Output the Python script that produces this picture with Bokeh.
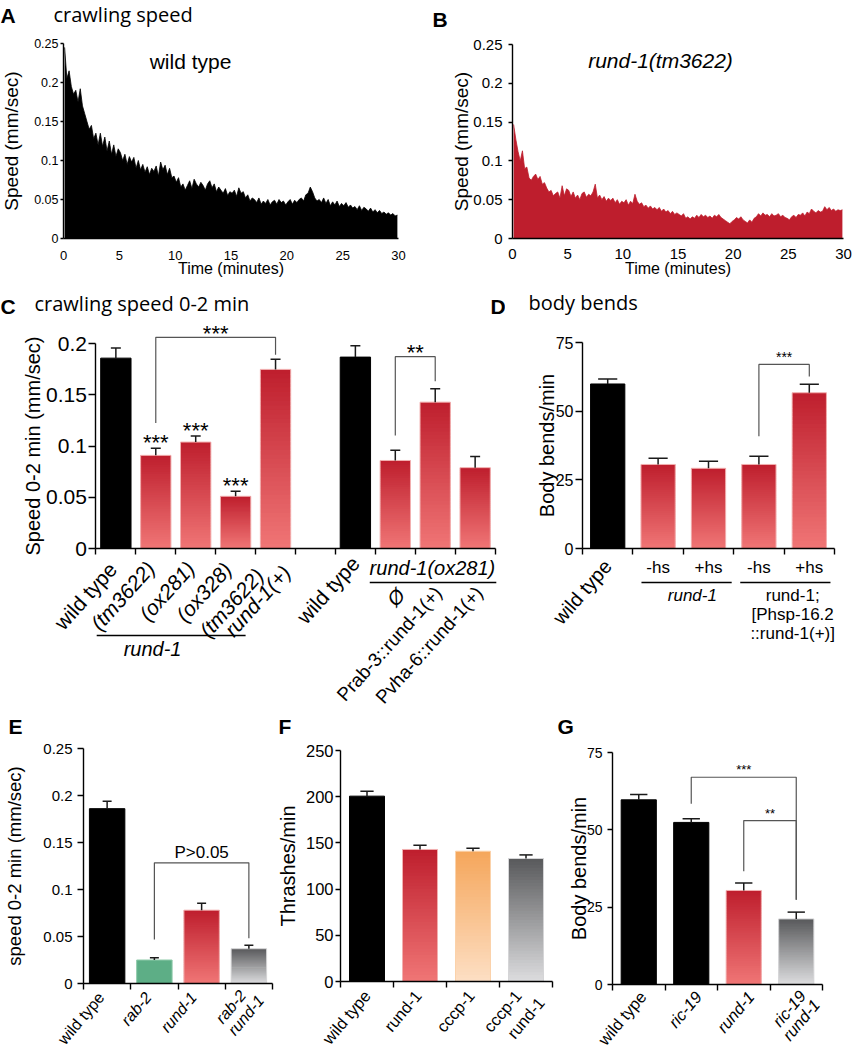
import numpy as np
from bokeh.plotting import figure
from bokeh.models import Label, Range1d, FixedTicker
from bokeh.layouts import column, row
from bokeh.embed import file_html
from bokeh.resources import INLINE

SANS = "Liberation Sans"
HEAD = "Open Sans"

# ------------------------------------------------------------------ data
A_bin_min = 0.2  # minutes per bin (panels A and B)
A_wild_type = [
    0.245, 0.205, 0.215, 0.195, 0.185,
    0.19, 0.175, 0.192, 0.17, 0.16,
    0.15, 0.14, 0.145, 0.128, 0.135,
    0.12, 0.135, 0.118, 0.13, 0.112,
    0.125, 0.108, 0.12, 0.105, 0.115,
    0.11, 0.1, 0.108, 0.095, 0.105,
    0.098, 0.104, 0.09, 0.1, 0.088,
    0.095, 0.085, 0.092, 0.082, 0.09,
    0.086, 0.093, 0.08, 0.098, 0.088,
    0.094, 0.082, 0.09, 0.078, 0.08,
    0.072, 0.078, 0.066, 0.07, 0.062,
    0.068, 0.074, 0.064, 0.076, 0.07,
    0.066, 0.072, 0.068, 0.062, 0.07,
    0.074, 0.065, 0.07, 0.06, 0.066,
    0.062, 0.058, 0.064, 0.055, 0.06,
    0.058, 0.062, 0.054, 0.065, 0.058,
    0.06, 0.052, 0.056, 0.048, 0.052,
    0.05, 0.046, 0.052, 0.044, 0.048,
    0.045, 0.05, 0.043, 0.047, 0.049,
    0.044, 0.05, 0.046, 0.048, 0.043,
    0.047, 0.05, 0.044, 0.049, 0.046,
    0.05, 0.052, 0.048, 0.056, 0.058,
    0.066, 0.06, 0.052, 0.048, 0.05,
    0.046, 0.052, 0.045, 0.05, 0.042,
    0.047, 0.043, 0.048, 0.041, 0.045,
    0.042, 0.046, 0.04, 0.043, 0.039,
    0.041, 0.037, 0.042, 0.036, 0.04,
    0.038, 0.035, 0.039, 0.034, 0.037,
    0.033, 0.036, 0.032, 0.034, 0.031,
    0.033, 0.03, 0.032, 0.029, 0.03,
]
B_rund1_tm3622 = [
    0.147, 0.128, 0.112, 0.1, 0.113,
    0.09, 0.092, 0.078, 0.075, 0.08,
    0.083, 0.076, 0.08, 0.07, 0.072,
    0.065, 0.06, 0.062, 0.055, 0.058,
    0.06, 0.052, 0.068, 0.055, 0.064,
    0.062, 0.054, 0.06, 0.052, 0.056,
    0.05, 0.058, 0.06, 0.053, 0.057,
    0.055, 0.06, 0.07, 0.052, 0.056,
    0.05, 0.054, 0.048, 0.052, 0.049,
    0.052, 0.046, 0.05, 0.044, 0.048,
    0.046, 0.05, 0.043, 0.048, 0.045,
    0.057, 0.048, 0.044, 0.046, 0.041,
    0.043, 0.039, 0.042, 0.038, 0.04,
    0.037, 0.04, 0.035, 0.038, 0.034,
    0.036, 0.032, 0.035, 0.031, 0.033,
    0.031, 0.029, 0.032, 0.026, 0.028,
    0.025, 0.028, 0.026, 0.03, 0.027,
    0.031, 0.028, 0.03, 0.027, 0.029,
    0.026, 0.03, 0.028, 0.031, 0.027,
    0.025, 0.023, 0.021, 0.019, 0.022,
    0.024, 0.027, 0.025, 0.028, 0.024,
    0.022, 0.02, 0.024, 0.021, 0.026,
    0.028, 0.032, 0.029, 0.033, 0.03,
    0.031, 0.028, 0.032, 0.029, 0.03,
    0.032, 0.028, 0.03, 0.027, 0.026,
    0.024, 0.028, 0.03, 0.027, 0.031,
    0.03, 0.033, 0.029, 0.034, 0.032,
    0.038, 0.035, 0.033, 0.036, 0.034,
    0.035, 0.041, 0.037, 0.04, 0.036,
    0.038, 0.035, 0.037, 0.036, 0.037,
]
AB_yticks = [0, 0.05, 0.1, 0.15, 0.2, 0.25]
AB_ytick_labels = ["0", "0.05", "0.1", "0.15", "0.2", "0.25"]
AB_xticks = [0, 5, 10, 15, 20, 25, 30]

C_labels = ["wild type", "(tm3622)", "(ox281)", "(ox328)", "(tm3622)\nrund-1(+)", "",
            "wild type", "Ø", "Prab-3::rund-1(+)", "Pvha-6::rund-1(+)"]
C_italic = [False, True, True, True, True, False, False, True, False, False]
C_speed = [0.186, 0.091, 0.104, 0.051, 0.175, None, 0.187, 0.086, 0.143, 0.079]
C_sem = [0.010, 0.007, 0.006, 0.005, 0.010, None, 0.011, 0.010, 0.013, 0.011]
C_kind = ["black", "red", "red", "red", "red", None, "black", "red", "red", "red"]
C_bar_stars = {1: "***", 2: "***", 3: "***"}
C_brackets = [(1, 4, 0.1225, 0.2063, 0.1893, "***"), (7, 8, 0.1105, 0.1874, 0.1635, "**")]
C_groups = [("rund-1", 0.02, 3.75, 87, 1.42, 100), ("rund-1(ox281)", 6.86, 10.03, 34, 8.43, 19)]
C_yticks = [0, 0.05, 0.1, 0.15, 0.2]
C_ytick_labels = ["0", "0.05", "0.1", "0.15", "0.2"]

D_labels = ["wild type", "-hs", "+hs", "-hs", "+hs"]
D_bends = [59.9, 30.6, 29.2, 30.6, 56.7]
D_sem = [1.8, 2.3, 2.6, 3.0, 3.1]
D_kind = ["black", "red", "red", "red", "red"]
D_brackets = [(3, 4, 40.9, 67.0, 62.6, "***")]
D_groups = [(["rund-1"], True, 1.17, 2.96, 2.18), (["rund-1;", "[Phsp-16.2", "::rund-1(+)]"], False, 3.13, 4.92, 4.17)]
BENDS_yticks = [0, 25, 50, 75]

E_labels = ["wild type", "rab-2", "rund-1", "rab-2\nrund-1"]
E_italic = [False, True, True, True]
E_speed = [0.186, 0.025, 0.078, 0.037]
E_sem = [0.008, 0.0025, 0.0075, 0.0036]
E_kind = ["black", "green", "red", "gray"]
E_brackets = [(1, 3, 0.0468, 0.1284, 0.0482, "P>0.05")]

F_labels = ["wild type", "rund-1", "cccp-1", "cccp-1\nrund-1"]
F_italic = [False, False, False, False]
F_thrashes = [200.6, 142.9, 141.0, 133.1]
F_sem = [5.4, 4.6, 3.3, 3.9]
F_kind = ["black", "red", "orange", "gray"]
F_yticks = [0, 50, 100, 150, 200, 250]

G_labels = ["wild type", "ric-19", "rund-1", "ric-19\nrund-1"]
G_italic = [False, True, True, True]
G_bends = [59.7, 52.4, 30.4, 21.2]
G_sem = [1.7, 1.2, 2.4, 2.2]
G_kind = ["black", "black", "red", "gray"]
G_brackets = [(1, 3, 58.4, 67.0, 27.4, "***"), (2, 3, 36.6, 53.0, 27.4, "**")]

# ------------------------------------------------------------------ styles
GRAD = {"red": ((190, 30, 45), (240, 118, 118), "#f2b0b0"),
        "orange": ((245, 166, 91), (253, 223, 196), "#fbd2aa"),
        "gray": ((88, 89, 91), (221, 221, 223), "#d5d5d7")}
SOLID = {"black": ("#000000", "#000000"), "green": ("#5dae86", "#8fcaa9")}
ALPHA_FIX = 0.27  # em; alphabetic-baseline labels render this much lower than asked


class Panel:
    """Figure whose canvas covers page pixels [ox, ox+w] x [oy, oy+h]; data x0..x1 maps
    to pixels fl..fr and data y0..y1 to pixels fb..ft. The frame fills the canvas and the
    axes are pinned at the data origin."""
    def __init__(s, ox, oy, w, h, fl, fr, ft, fb, xd, yd):
        s.fl, s.fb = fl, fb
        s.x0, s.x1 = xd
        s.y0, s.y1 = yd
        s.kx = (fr - fl) / (s.x1 - s.x0)
        s.ky = (fb - ft) / (s.y1 - s.y0)
        p = figure(width=w, height=h,
                   x_range=Range1d(s.rx(ox), s.rx(ox + w)),
                   y_range=Range1d(s.ry(oy + h), s.ry(oy)),
                   min_border_left=0, min_border_right=0, min_border_top=0, min_border_bottom=0,
                   output_backend="svg", toolbar_location=None)
        p.xgrid.grid_line_color = None
        p.ygrid.grid_line_color = None
        p.outline_line_color = None
        p.background_fill_color = "white"
        p.border_fill_color = "white"
        s.p = p

    def rx(s, x):
        return s.x0 + (x - s.fl) / s.kx

    def ry(s, y):
        return s.y0 + (s.fb - y) / s.ky


def label(P, x, y, text, size, style="normal", align="left", baseline="alphabetic",
          angle=0.0, font=SANS):
    if baseline == "alphabetic":
        y = y + ALPHA_FIX * size / P.ky
    P.p.add_layout(Label(x=x, y=y, text=text, text_font=font, text_font_size=f"{size}px",
                         text_font_style=style, text_align=align, text_baseline=baseline,
                         angle=angle, text_color="black"))


def style_axes(P, yticks, ylabels, ytick_size, ylab, ylab_size, ylab_standoff,
               ytick_out, ytick_standoff, xticks, xlabels, xtick_size, xtick_out,
               xtick_standoff=4, xlab=None, xlab_size=16, xlab_standoff=0):
    ya = P.p.yaxis[0]
    xa = P.p.xaxis[0]
    for ax in (xa, ya):
        ax.axis_line_color = "black"
        ax.axis_line_width = 1.4
        ax.major_tick_line_color = "black"
        ax.major_tick_line_width = 1.4
        ax.major_tick_in = 0
        ax.minor_tick_in = 0
        ax.minor_tick_out = 0
        ax.major_label_text_font = SANS
        ax.major_label_text_color = "black"
        ax.axis_label_text_font = SANS
        ax.axis_label_text_font_style = "normal"
        ax.axis_label_text_color = "black"
    ya.fixed_location = P.x0
    ya.bounds = (yticks[0], yticks[-1])
    ya.ticker = FixedTicker(ticks=yticks)
    ya.major_label_overrides = dict(zip(yticks, ylabels))
    ya.major_label_text_font_size = f"{ytick_size}px"
    ya.major_tick_out = ytick_out
    ya.major_label_standoff = ytick_standoff
    ya.axis_label = ylab
    ya.axis_label_text_font_size = f"{ylab_size}px"
    ya.axis_label_standoff = ylab_standoff
    xa.fixed_location = P.y0
    xa.bounds = (xticks[0], xticks[-1])
    xa.ticker = FixedTicker(ticks=xticks)
    xa.major_label_overrides = dict(zip(xticks, xlabels))
    xa.major_label_text_font_size = f"{xtick_size}px"
    xa.major_tick_out = xtick_out
    xa.major_label_standoff = xtick_standoff
    if xlab:
        xa.axis_label = xlab
        xa.axis_label_text_font_size = f"{xlab_size}px"
        xa.axis_label_standoff = xlab_standoff


def draw_trace(P, values, color):
    centers = [(k + 0.5) * A_bin_min for k in range(len(values))]
    P.p.varea(x=centers, y1=[0] * len(values), y2=values, fill_color=color)
    P.p.line(x=centers, y=values, line_color=color, line_width=0.8)


def draw_bars(P, vals, kinds, width, n=40):
    xs, bots, tops, cols = [], [], [], []
    ox, ot, oc = [], [], []
    for i, (v, k) in enumerate(zip(vals, kinds)):
        if v is None:
            continue
        x = i + 0.5
        if k in GRAD:
            top, bot, line = GRAD[k]
            for j in range(n):
                f = (j + 0.5) / n
                c = tuple(int(round(b + (t - b) * f)) for t, b in zip(top, bot))
                xs.append(x)
                bots.append(v * j / n)
                tops.append(min(v, v * (j + 1.8) / n))
                cols.append("#%02x%02x%02x" % c)
        else:
            fill, line = SOLID[k]
            xs.append(x); bots.append(0); tops.append(v); cols.append(fill)
        ox.append(x); ot.append(v); oc.append(line)
    P.p.vbar(x=xs, bottom=bots, top=tops, width=width, fill_color=cols, line_color=None)
    P.p.vbar(x=ox, bottom=0, top=ot, width=width, fill_color=None, line_color=oc, line_width=1)


def draw_err(P, vals, sems, cap):
    xs = [i + 0.5 for i, v in enumerate(vals) if v is not None]
    lo = [v for v in vals if v is not None]
    hi = [v + e for v, e in zip(vals, sems) if v is not None]
    P.p.segment(x0=xs, y0=lo, x1=xs, y1=hi, line_color="#1a1a1a", line_width=1.5)
    P.p.segment(x0=[x - cap / 2 for x in xs], y0=hi, x1=[x + cap / 2 for x in xs], y1=hi,
                line_color="#1a1a1a", line_width=1.5)


def draw_brackets(P, brs, size, gap_px, vis=0.55):
    for i, j, yl, yt, yr, txt in brs:
        xi, xj = i + 0.5, j + 0.5
        P.p.line([xi, xi, xj, xj], [yl, yt, yt, yr], line_color="#555555", line_width=1.2)
        center = yt + gap_px / P.ky
        label(P, (xi + xj) / 2, center - vis * size / P.ky, txt, size, align="center")


def cat_labels(P, labels, italics, size, off, off2=None, special=None, deg=47, sizes=None):
    """Rotated category labels, anchored (right, middle) at a pixel offset from the
    bar centre on the x axis; two-line labels use off2 = (line1, line2) offsets."""
    for i, lab in enumerate(labels):
        if not lab:
            continue
        lines = lab.split("\n")
        for k, s in enumerate(lines):
            if len(lines) > 1:
                dx, dy = off2[k]
            else:
                dx, dy = (special or {}).get(i, off)
            label(P, i + 0.5 + dx / P.kx, P.y0 - dy / P.ky, s, (sizes or {}).get(i, size),
                  style="italic" if italics[i] else "normal", align="right",
                  baseline="middle", angle=np.radians(deg))


def hline(P, x0, x1, dy):
    y = P.y0 - dy / P.ky
    P.p.line([x0, x1], [y, y], line_color="black", line_width=1.3)


# ------------------------------------------------------------------ A
PA = Panel(0, 0, 425, 285, 63, 398, 43, 238, (0, 30), (0, 0.25))
draw_trace(PA, A_wild_type, "black")
style_axes(PA, AB_yticks, AB_ytick_labels, 12.5, "Speed (mm/sec)", 19, 9, 3, 2,
           AB_xticks, [str(t) for t in AB_xticks], 13, 0, xtick_standoff=12,
           xlab="Time (minutes)", xlab_size=16, xlab_standoff=-3)
label(PA, PA.rx(0), PA.ry(21), "A", 21, style="bold")
label(PA, PA.rx(53), PA.ry(19), "crawling speed", 20, font=HEAD)
label(PA, PA.rx(190), PA.ry(67), "wild type", 21, align="center")

# ------------------------------------------------------------------ B
PB = Panel(425, 0, 430, 285, 512, 843, 44, 238, (0, 30), (0, 0.25))
draw_trace(PB, B_rund1_tm3622, "#be1e2d")
style_axes(PB, AB_yticks, AB_ytick_labels, 15, "Speed (mm/sec)", 19, -2, 4, 6,
           AB_xticks, [str(t) for t in AB_xticks], 15, 0, xtick_standoff=10,
           xlab="Time (minutes)", xlab_size=16, xlab_standoff=-2)
label(PB, PB.rx(432), PB.ry(25), "B", 21, style="bold")
label(PB, PB.rx(660), PB.ry(66), "rund-1(tm3622)", 21, style="italic", align="center")

# ------------------------------------------------------------------ C
PC = Panel(0, 285, 505, 429, 95.4, 494.6, 343.3, 548, (0, 10), (0, 0.2))
draw_bars(PC, C_speed, C_kind, 0.76)
draw_err(PC, C_speed, C_sem, 0.25)
style_axes(PC, C_yticks, C_ytick_labels, 21, "Speed 0-2 min (mm/sec)", 20, -1, 7, 2,
           list(range(11)), [""] * 11, 10, 6)
for i, s in C_bar_stars.items():
    yc = C_speed[i] + C_sem[i] + 11.5 / PC.ky
    label(PC, i + 0.5, yc - 0.55 * 22 / PC.ky, s, 22, align="center")
draw_brackets(PC, C_brackets, 22, 10.5)
cat_labels(PC, C_labels, C_italic, 21, (-5, 16), off2=[(-16, 23), (11, 20)],
           special={0: (-3, 17), 3: (-8, 17), 6: (0, 11), 7: (6, 43), 8: (3, 41), 9: (4, 41)},
           deg=48, sizes={7: 20, 8: 19, 9: 19})
for text, g0, g1, line_dy, tx, text_dy in C_groups:
    hline(PC, g0, g1, line_dy)
    label(PC, tx, PC.y0 - text_dy / PC.ky, text, 20, style="italic", align="center", baseline="middle")
label(PC, PC.rx(0), PC.ry(312), "C", 21, style="bold")
label(PC, PC.rx(34), PC.ry(308), "crawling speed 0-2 min", 20, font=HEAD)
label(PC, PC.rx(490), PC.ry(312), "D", 21, style="bold")

# ------------------------------------------------------------------ D
PD = Panel(505, 285, 350, 429, 582, 834, 342, 548, (0, 5), (0, 75))
draw_bars(PD, D_bends, D_kind, 0.68)
draw_err(PD, D_bends, D_sem, 0.38)
style_axes(PD, BENDS_yticks, [str(t) for t in BENDS_yticks], 16, "Body bends/min", 20, -5, 7, 2,
           list(range(6)), [""] * 6, 10, 6)
draw_brackets(PD, D_brackets, 14, 11)
cat_labels(PD, D_labels[:1], [False], 20, (0, 14), deg=49)
for i in range(1, 5):
    label(PD, i + 0.5, PD.y0 - 19 / PD.ky, D_labels[i], 17, align="center", baseline="middle")
for lines, ital, g0, g1, tx in D_groups:
    hline(PD, g0, g1, 34)
    for k, s in enumerate(lines):
        label(PD, tx, PD.y0 - (47 + 19 * k) / PD.ky, s, 17,
              style="italic" if ital else "normal", align="center", baseline="middle")
label(PD, PD.rx(528), PD.ry(307), "body bends", 20, font=HEAD)

# ------------------------------------------------------------------ E
PE = Panel(0, 714, 275, 335, 83, 272, 748, 983, (0, 4), (0, 0.25))
draw_bars(PE, E_speed, E_kind, 0.75)
draw_err(PE, E_speed, E_sem, 0.19)
style_axes(PE, AB_yticks, AB_ytick_labels, 15, "speed 0-2 min (mm/sec)", 18.5, 15, 6, 5,
           list(range(5)), [""] * 5, 10, 6)
draw_brackets(PE, E_brackets, 17, 12, vis=0.36)
cat_labels(PE, E_labels, E_italic, 16, (-6, 11), off2=[(-6, 9), (12, 14)],
           special={2: (-8, 11)}, deg=50)
label(PE, PE.rx(8), PE.ry(732), "E", 21, style="bold")

# ------------------------------------------------------------------ F
PF = Panel(275, 714, 280, 335, 340, 552, 750, 981, (0, 4), (0, 250))
draw_bars(PF, F_thrashes, F_kind, 0.66)
draw_err(PF, F_thrashes, F_sem, 0.25)
style_axes(PF, F_yticks, [str(t) for t in F_yticks], 16.5, "Thrashes/min", 20, 4, 5, 2,
           list(range(5)), [""] * 5, 10, 6)
cat_labels(PF, F_labels, F_italic, 16.5, (-2, 11), off2=[(-8, 11), (15, 18)],
           special={0: (0, 11)}, deg=50)
label(PF, PF.rx(278), PF.ry(732), "F", 21, style="bold")

# ------------------------------------------------------------------ G
PG = Panel(555, 714, 300, 335, 612, 822, 752, 984, (0, 4), (0, 75))
draw_bars(PG, G_bends, G_kind, 0.67)
draw_err(PG, G_bends, G_sem, 0.33)
style_axes(PG, BENDS_yticks, [str(t) for t in BENDS_yticks], 14, "Body bends/min", 20, -6, 5, 5,
           list(range(5)), [""] * 5, 10, 6)
draw_brackets(PG, G_brackets, 13, 11)
cat_labels(PG, G_labels, G_italic, 16.5, (7, 9), off2=[(6, 8), (20, 17)],
           special={0: (4, 9)}, deg=50)
label(PG, PG.rx(557), PG.ry(732), "G", 21, style="bold")

layout = column(row(PA.p, PB.p), row(PC.p, PD.p), row(PE.p, PF.p, PG.p))
open("out.html", "w").write(file_html(layout, INLINE))
